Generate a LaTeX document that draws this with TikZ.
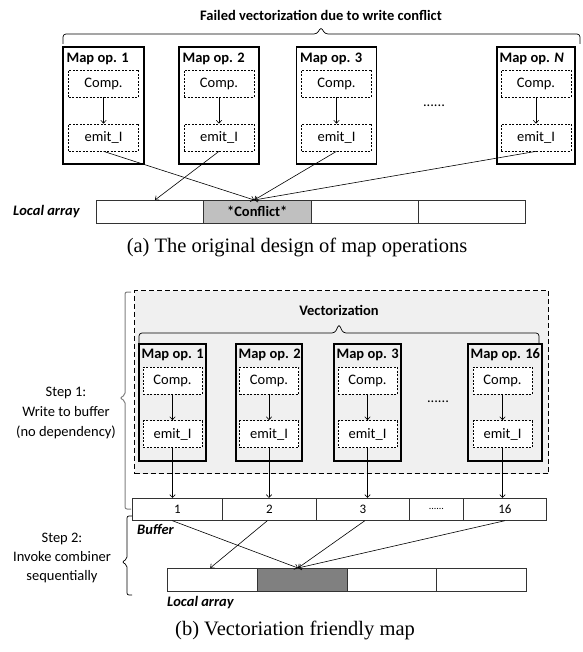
\documentclass[tikz,border=0pt]{standalone}
\usepackage{fontspec}
\setsansfont{Carlito}
\newfontfamily\serifcap{Liberation Serif}
\usetikzlibrary{arrows.meta}
\definecolor{vecfill}{HTML}{F0F0F0}
\definecolor{conflictfill}{HTML}{C0C0C0}
\definecolor{combfill}{HTML}{808080}

\begin{document}
\begin{tikzpicture}[x=1pt, y=-1pt,
  font=\sffamily\fontsize{14.5}{17}\selectfont,
  mapop/.style = {draw, line width=1.2pt, minimum height=117pt, inner sep=0pt},
  part/.style = {draw, fill=white, line width=0.7pt, dash pattern=on 2pt off 1.5pt, minimum height=27pt, inner sep=0pt},
  optitle/.style = {anchor=base west, inner sep=0pt, font=\sffamily\bfseries\fontsize{14.5}{17}\selectfont},
  cell/.style = {draw=black!80, line width=0.7pt, anchor=north west, inner sep=0pt},
  bufnum/.style = {font=\sffamily\fontsize{13}{15}\selectfont},
  arr/.style = {-{Straight Barb[length=3pt,width=5.5pt]}, line width=0.6pt},
  brace/.style = {line width=0.7pt, rounded corners=3pt},
  boldit/.style = {inner sep=0pt, font=\sffamily\bfseries\itshape\fontsize{14.5}{17}\selectfont},
  ]
	\useasboundingbox (0,0) rectangle (582,652);

	% (a) original design
	\node[font=\sffamily\bfseries\fontsize{14.5}{17}\selectfont] (title) at (321,15) {Failed vectorization due to write conflict};
	\draw[brace] (63,44) -- (63,34) -- (317,34) -- (321,27) -- (325,34) -- (580,34) -- (580,44);

	\node[mapop, minimum width=81pt] (A1) at (103.5,105.5) {};
	\node[mapop, minimum width=80pt] (A2) at (219,105.5) {};
	\node[mapop, minimum width=80pt] (A3) at (336.5,105.5) {};
	\node[mapop, minimum width=78pt] (AN) at (536,105.5) {};
	\node[optitle] at ([shift={(4,16)}]A1.north west) {Map op. 1};
	\node[optitle] at ([shift={(4,16)}]A2.north west) {Map op. 2};
	\node[optitle] at ([shift={(4,16)}]A3.north west) {Map op. 3};
	\node[optitle] at ([shift={(3,16)}]AN.north west) {Map op. \textit{N}};

	\node[part, minimum width=70pt] (CA1) at (103.5,83.5) {Comp.};
	\node[part, minimum width=70pt] (CA2) at (219,83.5) {Comp.};
	\node[part, minimum width=70pt] (CA3) at (336.5,83.5) {Comp.};
	\node[part, minimum width=70pt] (CAN) at (536,83.5) {Comp.};
	\node[part, minimum width=70pt] (EA1) at (103.5,137.5) {emit\_I};
	\node[part, minimum width=70pt] (EA2) at (219,137.5) {emit\_I};
	\node[part, minimum width=70pt] (EA3) at (336.5,137.5) {emit\_I};
	\node[part, minimum width=70pt] (EAN) at (536,137.5) {emit\_I};
	\draw[arr] (CA1) -- (EA1);
	\draw[arr] (CA2) -- (EA2);
	\draw[arr] (CA3) -- (EA3);
	\draw[arr] (CAN) -- (EAN);
	\node (dotsA) at (434,106) {......};

	\node[boldit, anchor=west] (lblA) at (13,212) {Local array};
	\node[cell, minimum width=107.25pt, minimum height=23pt] (LA1) at (96,200) {};
	\node[cell, minimum width=107.25pt, minimum height=23pt, fill=conflictfill, font=\sffamily\bfseries\fontsize{14.5}{17}\selectfont] (LA2) at (203.25,200) {*Conflict*};
	\node[cell, minimum width=107.25pt, minimum height=23pt] (LA3) at (310.5,200) {};
	\node[cell, minimum width=107.25pt, minimum height=23pt] (LA4) at (417.75,200) {};

	\draw[arr] (EA1.south) -- ([xshift=-3]LA2.north);
	\draw[arr] (EA2.south) -- ([xshift=5]LA1.north);
	\draw[arr] (EA3.south) -- ([xshift=-3]LA2.north);
	\draw[arr] (EAN.south) -- ([xshift=-3]LA2.north);

	\node[font=\serifcap\fontsize{20.5}{24}\selectfont] (capA) at (297,247) {(a) The original design of map operations};

	% (b) vectorization friendly
	\node[draw, line width=1.3pt, dash pattern=on 5pt off 3pt, fill=vecfill, anchor=north west, minimum width=414pt, minimum height=183pt, inner sep=0pt] (vec) at (134,290) {};
	\node[font=\sffamily\bfseries\fontsize{14.5}{17}\selectfont] (vectitle) at (339,310) {Vectorization};
	\draw[brace] (139,344) -- (139,333) -- (335,333) -- (339,324) -- (343,333) -- (539,333) -- (539,344);

	\node[mapop, fill=vecfill, minimum width=67pt] (B1) at (172.5,402.5) {};
	\node[mapop, fill=vecfill, minimum width=66pt] (B2) at (269,402.5) {};
	\node[mapop, fill=vecfill, minimum width=67pt] (B3) at (367.5,402.5) {};
	\node[mapop, fill=vecfill, minimum width=74pt] (B16) at (505,402.5) {};
	\node[optitle] at ([shift={(3,15)}]B1.north west) {Map op. 1};
	\node[optitle] at ([shift={(3,15)}]B2.north west) {Map op. 2};
	\node[optitle] at ([shift={(3,15)}]B3.north west) {Map op. 3};
	\node[optitle] at ([shift={(3,15)}]B16.north west) {Map op. 16};

	\node[part, minimum width=59pt] (CB1) at (172.5,380.5) {Comp.};
	\node[part, minimum width=59pt] (CB2) at (269,380.5) {Comp.};
	\node[part, minimum width=59pt] (CB3) at (367.5,380.5) {Comp.};
	\node[part, minimum width=59pt] (CB16) at (502.5,380.5) {Comp.};
	\node[part, minimum width=59pt] (EB1) at (172.5,434) {emit\_I};
	\node[part, minimum width=59pt] (EB2) at (269,434) {emit\_I};
	\node[part, minimum width=59pt] (EB3) at (367.5,434) {emit\_I};
	\node[part, minimum width=59pt] (EB16) at (502.5,434) {emit\_I};
	\draw[arr] (CB1) -- (EB1);
	\draw[arr] (CB2) -- (EB2);
	\draw[arr] (CB3) -- (EB3);
	\draw[arr] (CB16) -- (EB16);
	\node (dotsB) at (438,402) {......};

	\node[cell, bufnum, minimum width=90pt, minimum height=22pt] (BF1) at (132,498) {1};
	\node[cell, bufnum, minimum width=94pt, minimum height=22pt] (BF2) at (222,498) {2};
	\node[cell, bufnum, minimum width=93pt, minimum height=22pt] (BF3) at (316,498) {3};
	\node[cell, minimum width=54pt, minimum height=22pt, font=\sffamily\fontsize{10}{12}\selectfont] (BF4) at (409,498) {......};
	\node[cell, bufnum, minimum width=83pt, minimum height=22pt] (BF16) at (463,498) {16};
	\node[boldit, anchor=north west] (lblBuf) at (137,524) {Buffer};

	\draw[arr] (EB1.south) -- (EB1.south |- BF1.north);
	\draw[arr] (EB2.south) -- (EB2.south |- BF2.north);
	\draw[arr] (EB3.south) -- (EB3.south |- BF3.north);
	\draw[arr] (EB16.south) -- (EB16.south |- BF16.north);

	\node[cell, minimum width=89.75pt, minimum height=23pt] (LB1) at (167,568) {};
	\node[cell, minimum width=89.75pt, minimum height=23pt, fill=combfill] (LB2) at (256.75,568) {};
	\node[cell, minimum width=89.75pt, minimum height=23pt] (LB3) at (346.5,568) {};
	\node[cell, minimum width=89.75pt, minimum height=23pt] (LB4) at (436.25,568) {};
	\node[boldit, anchor=north west] (lblB) at (167,596) {Local array};

	\draw[arr] ([xshift=-5]BF1.south) -- ([xshift=-4]LB2.north);
	\draw[arr] ([xshift=-2]BF2.south) -- ([xshift=-2]LB1.north);
	\draw[arr] ([xshift=2]BF3.south) -- ([xshift=-4]LB2.north);
	\draw[arr] (BF16.south) -- ([xshift=-4]LB2.north);

	\draw[gray, line width=1pt, rounded corners=2pt] (131,292) -- (125,292) -- (125,395) -- (120,398) -- (125,401) -- (125,509) -- (131,509);
	\draw[line width=0.7pt, rounded corners=2pt] (132,516) -- (127,516) -- (127,559) -- (122,562) -- (127,565) -- (127,595) -- (132,595);
	\node[align=center, font=\sffamily\fontsize{14.5}{20}\selectfont] (step1) at (66,413) {Step 1:\\Write to buffer\\(no dependency)};
	\node[align=center, font=\sffamily\fontsize{14.5}{19}\selectfont] (step2) at (62,558) {Step 2:\\Invoke combiner\\sequentially};

	\node[font=\serifcap\fontsize{20.5}{24}\selectfont] (capB) at (295,630) {(b) Vectoriation friendly map};
\end{tikzpicture}
\end{document}
